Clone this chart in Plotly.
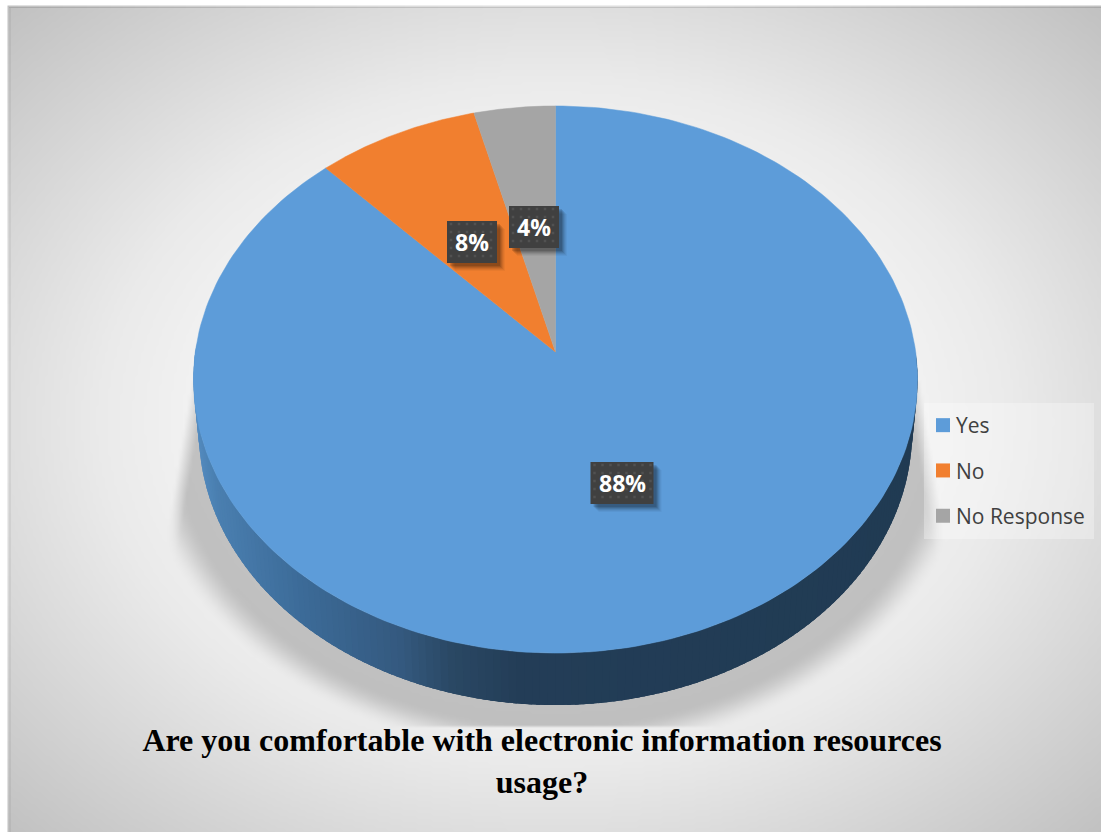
import numpy as np
import plotly.graph_objects as go

# ---- data ----
categories = ["Yes", "No", "No Response"]
values = [88, 8, 4]
title_text = "Are you comfortable with electronic information resources<br>usage?"

# ---- styles ----
slice_colors = ["#5D9CD9", "#F17F2F", "#A5A5A5"]
label_boxes = {"Yes": (622, 483, 63), "No": (472, 242, 50), "No Response": (534, 227, 50)}
W, H = 1101, 832

# projected pie geometry (tilted disc, in page pixels)
APEX_X, APEX_Y = 555.5, 352
P, A, B = 0.1006, 360.2, 270.8
DEPTH = 52
WALL_SCALE = 0.985


def rim(theta):
    w = 1 + P * np.cos(theta)
    return APEX_X + A * np.sin(theta) / w, APEX_Y - B * np.cos(theta) / w


# ---- background gradient + soft shadow, as a heatmap ----
gx = np.arange(9, W + 3, 3.0)
gy = np.arange(7, H + 3, 3.0)
X, Y = np.meshgrid(gx, gy)
d = np.sqrt(((X - 555) / 546) ** 2 + ((Y - 420) / 412) ** 2) / np.sqrt(2)
bg = np.interp(d, [0, 0.28, 0.59, 0.72, 1.0], [255, 253, 234, 221, 193])
r = np.sqrt(((X - 555) / 420) ** 2 + ((Y - 430) / 325) ** 2)
ell = np.clip((1.0 - r) / 0.10, 0, 1)
ell = ell * ell * (3 - 2 * ell)
edge = 191 - np.maximum(Y - 380, 0) * 25 / 150
wedge = np.clip((X - edge) / 14, 0, 1) * np.clip(((2 * 555 - X) - edge) / 14, 0, 1)
mask = ell * wedge * (Y > 380) * (Y < 725)
z = bg * (1 - 0.2 * mask)

wall_stops_x = [193, 215, 300, 400, 450, 520, 920]
wall_stops = np.array([[0x55, 0x8C, 0xC0], [0x4A, 0x7F, 0xB0], [0x3C, 0x6B, 0x98],
                       [0x34, 0x59, 0x7F], [0x2A, 0x48, 0x64], [0x23, 0x3D, 0x57], [0x20, 0x3B, 0x53]])

fig = go.Figure()
fig.add_trace(go.Heatmap(x=gx, y=gy, z=np.round(z).astype(float),
                         colorscale=[[0, "rgb(0,0,0)"], [1, "rgb(255,255,255)"]],
                         zmin=0, zmax=255, zsmooth="best", showscale=False, hoverinfo="skip"))

# side wall of the disc (painted from the right round to the left, each piece overlapping the next)
edges = np.linspace(np.pi / 2, 3 * np.pi / 2, 161)
step = edges[1] - edges[0]
for t0 in edges[:-1]:
    ts = np.linspace(t0, t0 + 2.5 * step, 5)
    rx, ry = rim(ts)
    low_x = APEX_X + (rx - APEX_X) * WALL_SCALE
    mid = rim(t0 + step / 2)[0]
    col = [int(round(np.interp(mid, wall_stops_x, wall_stops[:, i]))) for i in range(3)]
    c = f"rgb({col[0]},{col[1]},{col[2]})"
    fig.add_trace(go.Scatter(x=np.r_[rx, low_x[::-1]], y=np.r_[ry, ry[::-1] + DEPTH], mode="lines",
                             fill="toself", fillcolor=c, line=dict(width=0),
                             showlegend=False, hoverinfo="skip"))

# top face: slices from the values
frac = np.cumsum([0] + values) / sum(values)
for name, color, a0, a1 in zip(categories, slice_colors, frac[:-1], frac[1:]):
    ts = 2 * np.pi * np.linspace(a0, a1, 240)
    rx, ry = rim(ts)
    fig.add_trace(go.Scatter(x=np.r_[APEX_X, rx, APEX_X], y=np.r_[APEX_Y, ry, APEX_Y], mode="lines",
                             fill="toself", fillcolor=color, line=dict(color=color, width=0.5),
                             name=name, showlegend=False, hoverinfo="skip"))

# legend panel
fig.add_trace(go.Scatter(x=[924, 1094, 1094, 924, 924], y=[403, 403, 539, 539, 403], mode="lines",
                         fill="toself", fillcolor="rgba(255,255,255,0.3)", line=dict(width=0),
                         showlegend=False, hoverinfo="skip"))
# legend entries
for i, (name, color) in enumerate(zip(categories, slice_colors)):
    fig.add_trace(go.Scatter(x=[None], y=[None], mode="markers", name=name, legendgroup=name,
                             marker=dict(symbol="square", size=14, color=color)))

# data labels
annotations = []
for name, val in zip(categories, values):
    cx, cy, w = label_boxes[name]
    x0, x1, y0, y1 = cx - w / 2, cx + w / 2, cy - 21, cy + 21
    for off, alpha in [(8, 0.04), (7, 0.05), (6, 0.07), (5, 0.09), (4, 0.11), (3, 0.13)]:
        fig.add_trace(go.Scatter(x=[x0 + off, x1 + off, x1 + off, x0 + off, x0 + off],
                                 y=[y0 + off, y0 + off, y1 + off, y1 + off, y0 + off], mode="lines",
                                 fill="toself", fillcolor=f"rgba(0,0,0,{alpha})", line=dict(width=0),
                                 showlegend=False, hoverinfo="skip"))
    fig.add_trace(go.Scatter(x=[x0, x1, x1, x0, x0], y=[y0, y0, y1, y1, y0], mode="lines",
                             fill="toself", fillcolor="#404040", line=dict(width=0),
                             showlegend=False, hoverinfo="skip"))
    dx, dy = np.meshgrid(np.arange(x0 + 4, x1 - 1, 8), np.arange(y0 + 3, y1 - 1, 8))
    fig.add_trace(go.Scatter(x=dx.ravel(), y=dy.ravel(), mode="markers",
                             marker=dict(symbol="square", size=2.5, color="#515151"),
                             showlegend=False, hoverinfo="skip"))
    annotations.append(dict(x=cx, y=cy, xref="x", yref="y", text=f"<b>{val}%</b>", showarrow=False,
                            font=dict(family="Open Sans", size=23, color="#FFFFFF")))

# page frame edges
fig.add_shape(type="line", x0=9, x1=W, y0=7.5, y1=7.5, xref="x", yref="y", line=dict(color="rgba(0,0,0,0.12)", width=1))
fig.add_shape(type="line", x0=10, x1=10, y0=8, y1=H, xref="x", yref="y", line=dict(color="rgba(0,0,0,0.05)", width=2))

fig.update_layout(
    width=W, height=H, margin=dict(l=0, r=0, t=0, b=0),
    paper_bgcolor="#FFFFFF", plot_bgcolor="#FFFFFF",
    xaxis=dict(range=[0, W], visible=False, fixedrange=True),
    yaxis=dict(range=[H, 0], visible=False, fixedrange=True),
    annotations=annotations,
    title=dict(text=f"<b>{title_text}</b>", x=542 / W, xanchor="center", y=1 - 751 / H, yanchor="middle",
               font=dict(family="Liberation Serif", size=32, color="#000000")),
    legend=dict(x=916 / W, y=1 - 405 / H, xanchor="left", yanchor="top", bgcolor="rgba(0,0,0,0)",
                font=dict(family="Open Sans", size=21, color="#404040"), tracegroupgap=15, itemclick=False),
)
fig.write_html("out.html", config={"displayModeBar": False},
               post_script="document.body.style.margin='0';document.body.style.overflow='hidden';"
                           "document.querySelectorAll('.legendpoints path').forEach(function(p){"
                           "p.setAttribute('transform','translate(27,0)');});")
